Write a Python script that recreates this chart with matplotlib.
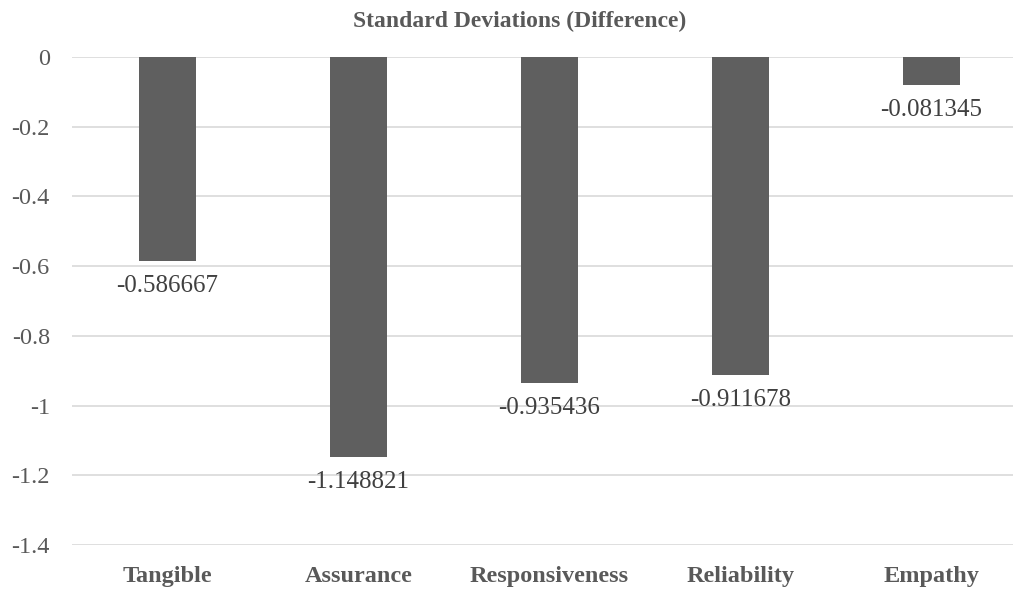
import matplotlib
matplotlib.use("Agg")
import matplotlib.pyplot as plt

categories = ["Tangible", "Assurance", "Responsiveness", "Reliability", "Empathy"]
values = [-0.586667, -1.148821, -0.935436, -0.911678, -0.081345]
labels = ["-0.586667", "-1.148821", "-0.935436", "-0.911678", "-0.081345"]
yticks = [0, -0.2, -0.4, -0.6, -0.8, -1, -1.2, -1.4]
ytick_labels = ["0", "-0.2", "-0.4", "-0.6", "-0.8", "-1", "-1.2", "-1.4"]

plt.rcParams["font.family"] = ["Liberation Serif", "DejaVu Serif"]
text_color = "#595959"

fig = plt.figure(figsize=(10.13, 5.9), dpi=100)
ax = fig.add_axes([72 / 1013, 1 - 545 / 590, 1 - 72 / 1013, 488 / 590])

x = list(range(len(categories)))
ax.bar(x, values, width=0.30, color="#5f5f5f", zorder=3)
for xi, v, lab in zip(x, values, labels):
    ax.annotate(lab, (xi, v), xytext=(0, -10), textcoords="offset points",
                ha="center", va="top", fontsize=18, color="#404040")

ax.set_ylim(-1.4, 0)
ax.set_xlim(-0.5, (1013 - 72) / 191 - 0.5)
ax.set_yticks(yticks)
ax.set_yticklabels(ytick_labels, fontsize=17.5, color=text_color)
ax.set_xticks(x)
ax.set_xticklabels(categories, fontsize=17.5, fontweight="bold", color=text_color)
ax.tick_params(axis="both", length=0)
ax.tick_params(axis="y", pad=16)
ax.tick_params(axis="x", pad=15)
ax.grid(axis="y", color="#d9d9d9", linewidth=1.2, zorder=0)
for s in ax.spines.values():
    s.set_visible(False)

fig.text(520 / 1013, 1 - 21 / 590, "Standard Deviations (Difference)", ha="center", va="center",
         fontsize=17, fontweight="bold", color=text_color)

fig.savefig("out.png", dpi=100)
